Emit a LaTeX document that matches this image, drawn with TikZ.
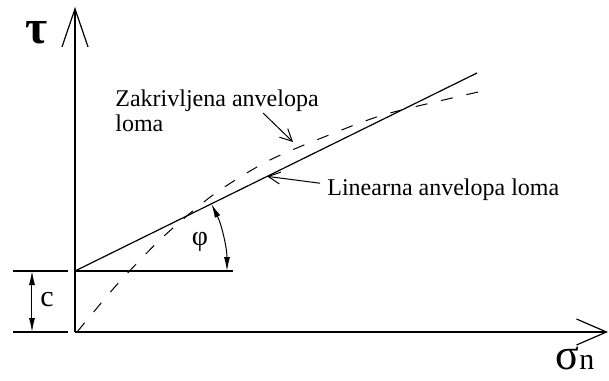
\documentclass[tikz,border=0pt]{standalone}
\usepackage{fontspec}
\setmainfont{Liberation Serif}
\usetikzlibrary{arrows.meta,calc,positioning}

\begin{document}
\begin{tikzpicture}[x=0.5pt,y=0.5pt,
    axis/.style={line width=0.6pt,-{Straight Barb[length=#1,width=13pt]}},
    guide/.style={line width=0.6pt},
    pointer/.style={line width=0.5pt,-{Straight Barb[length=6pt,width=6pt]}},
    dimarrow/.style={line width=0.5pt,{Latex[length=7pt,width=3pt]}-{Latex[length=7pt,width=3pt]}},
    annot/.style={font=\fontsize{12}{12.5}\selectfont,inner sep=0pt}
  ]
    \useasboundingbox (-75,-48) rectangle (534,332);
    \coordinate (O) at (0,0);
    \coordinate (ytip) at (0,325);
    \coordinate (xtip) at (533,0);
    \coordinate (C) at (0,61);
    \draw[axis=19pt] (O) -- (ytip);
    \draw[axis=15pt] (O) -- (xtip);
    \node[font=\bfseries\fontsize{24}{24}\selectfont] (taulabel) at (-38,299) {τ};
    \node[inner sep=0pt,anchor=base] (sigmalabel) at (500,-37)
      {{\fontsize{22}{22}\selectfont σ}{\fontsize{15}{15}\selectfont n}};
    % cohesion c
    \draw[guide] (-62,0) -- (-7,0);
    \draw[guide] (-62,61) -- (-7,61);
    \coordinate (cbot) at (-43,0);
    \coordinate (ctop) at (-43,61);
    \draw[dimarrow] (cbot) -- (ctop);
    \node[annot,font=\fontsize{15}{15}\selectfont] (clabel) at (-28,32) {c};
    % linear envelope and angle
    \coordinate (hend) at (158,61);
    \coordinate (lend) at (402,259);
    \draw[guide] (C) -- (hend);
    \draw[guide] (C) -- (lend);
    \coordinate (arcstart) at ($(C)+(152,0)$);
    \draw[dimarrow] (arcstart) arc[start angle=0,end angle=26.2,radius=152];
    \node[annot,font=\fontsize{14}{14}\selectfont] (philabel) at (125,90) {φ};
    % curved envelope
    \draw[line width=0.5pt,dash pattern=on 6pt off 7pt]
      plot[smooth] coordinates {(2,0) (27,30) (48,54) (88,95) (138,137) (193,171)
        (254,197) (308,217) (377,234) (408,241)};
    % labels
    \node[annot,align=left,anchor=north west] (curvedtxt) at (40,243)
      {Zakrivljena anvelopa\\loma};
    \coordinate (curvedfrom) at (188,219);
    \coordinate (curvedto) at (218,190);
    \draw[pointer] (curvedfrom) -- (curvedto);
    \node[annot,anchor=base west] (lintxt) at (252,137) {Linearna anvelopa loma};
    \coordinate (lintip) at ($(C)!0.478!(lend)$);
    \draw[pointer] ([shift={(-7,6)}]lintxt.west) -- (lintip);
\end{tikzpicture}
\end{document}
